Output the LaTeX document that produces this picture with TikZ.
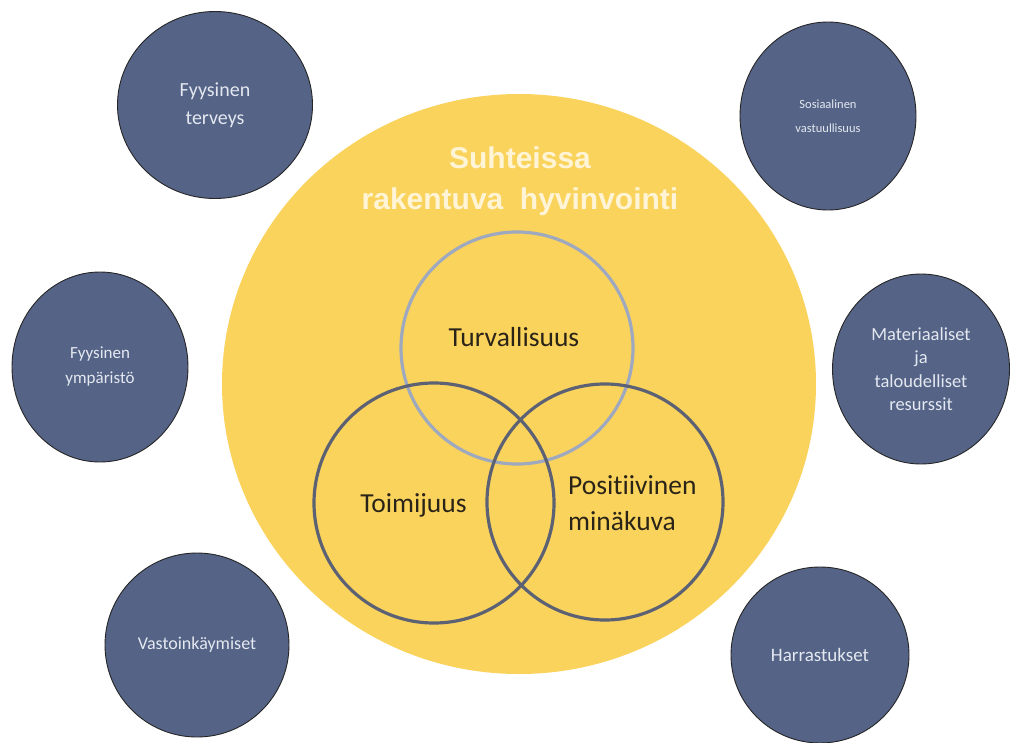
\documentclass[tikz,border=0pt]{standalone}
\usepackage{fontspec}
\setmainfont{Carlito}[Ligatures=NoCommon]
\newfontfamily\titlefont{Liberation Sans}
\usetikzlibrary{shapes.geometric}
\definecolor{yel}{HTML}{FAD35C}
\definecolor{slate}{HTML}{546386}
\definecolor{lightring}{HTML}{9EA9C0}
\definecolor{darkring}{HTML}{5C6274}
\definecolor{cream}{HTML}{FFF5D6}
\definecolor{pale}{HTML}{E4E8F0}
\definecolor{ink}{HTML}{2A2418}
\begin{document}
\begin{tikzpicture}[x=1pt,y=-1pt,
  outer/.style={ellipse, fill=slate, draw=black!85, line width=0.9pt, inner sep=0pt, text=pale, align=center},
  bigdisc/.style={ellipse, fill=yel, inner sep=0pt},
  ring/.style={circle, inner sep=0pt, line width=3.2pt},
  innerlabel/.style={text=ink, inner sep=0pt, font=\fontsize{27.5}{35.4}\selectfont},
  titlelabel/.style={text=cream, inner sep=0pt, font=\titlefont\bfseries\fontsize{30}{41}\selectfont}
]
\useasboundingbox (0,0) rectangle (1012,742);
\fill[white] (0,0) rectangle (1012,742);

% central yellow disc
\node[bigdisc, minimum width=594pt, minimum height=580pt] (big) at (519,384) {};

% title
\node[titlelabel, anchor=base] (title1) at (520,168.6) {Suhteissa};
\node[titlelabel, anchor=base] (title2) at (520,209) {rakentuva\hspace{0.55em}hyvinvointi};

% Venn rings
\node[ring, draw=lightring, minimum size=232pt] (turv) at (517,348) {};
\node[ring, draw=darkring, minimum size=240pt] (toim) at (434,503) {};
\node[ring, draw=darkring, minimum size=236pt] (pos) at (605,502) {};

% Venn labels
\node[innerlabel, anchor=base] (turvtext) at (514,346) {Turvallisuus};
\node[innerlabel, anchor=base] (toimtext) at (413.5,512.5) {Toimijuus};
\node[innerlabel, anchor=base west] (postext1) at (568,494.6) {Positiivinen};
\node[innerlabel, anchor=base west] (postext2) at (568,530) {minäkuva};

% outer circles
\node[outer, minimum width=195pt, minimum height=187pt, font=\fontsize{20}{28}\selectfont] (tl) at (215,105) {\raisebox{0pt}{}Fyysinen\\terveys};
\node[outer, minimum width=176pt, minimum height=188pt, font=\fontsize{12.5}{24}\selectfont] (tr) at (828,116) {Sosiaalinen\\vastuullisuus};
\node[outer, minimum width=176pt, minimum height=190pt, font=\fontsize{17}{25}\selectfont] (ml) at (100,367) {Fyysinen\\ympäristö};
\node[outer, minimum width=177pt, minimum height=190pt, font=\fontsize{18.5}{23.5}\selectfont] (mr) at (921,369) {Materiaaliset\\ja\\taloudelliset\\resurssit};
\node[outer, minimum width=184pt, minimum height=184pt, font=\fontsize{18}{22}\selectfont] (bl) at (197,645) {Vastoinkäymiset};
\node[outer, minimum width=178pt, minimum height=176pt, font=\fontsize{19}{22}\selectfont] (br) at (820,655) {Harrastukset};
\end{tikzpicture}
\end{document}
